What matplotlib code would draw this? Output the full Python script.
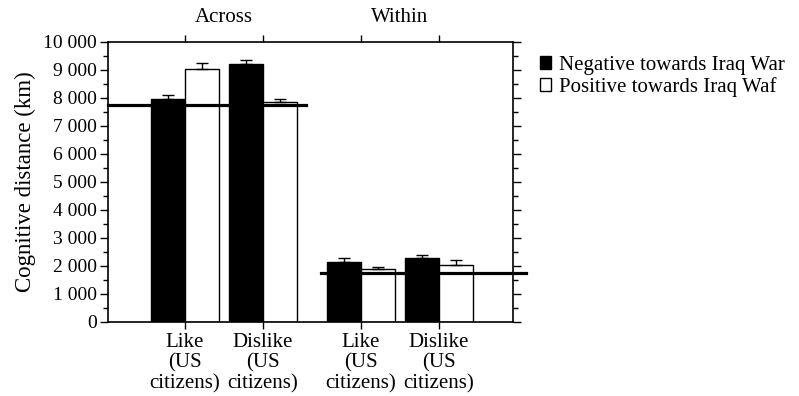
import numpy as np
import matplotlib.pyplot as plt

plt.rcParams['font.family'] = ['Liberation Serif', 'DejaVu Serif']

# data
categories = ['Like\n(US\ncitizens)', 'Dislike\n(US\ncitizens)',
              'Like\n(US\ncitizens)', 'Dislike\n(US\ncitizens)']
negative = [7950, 9200, 2150, 2300]
negative_err = [150, 150, 150, 100]
positive = [9050, 7850, 1880, 2050]
positive_err = [200, 100, 100, 150]
series_names = ['Negative towards Iraq War', 'Positive towards Iraq Waf']
group_names = ['Across', 'Within']
ref_across = 7750
ref_within = 1750

x = np.array([0, 1, 2.256, 3.256])
w = 0.436

fig = plt.figure(figsize=(7.99, 3.96), dpi=100)
ax = fig.add_axes([0.1352, 0.1869, 0.5069, 0.7071])

ax.bar(x - w / 2, negative, w, color='black', edgecolor='black', linewidth=1,
       label=series_names[0], zorder=2)
ax.bar(x + w / 2, positive, w, color='white', edgecolor='black', linewidth=1,
       label=series_names[1], zorder=2)
ax.errorbar(x - w / 2, negative, yerr=[np.zeros(4), negative_err], fmt='none',
            ecolor='black', elinewidth=1, capsize=4, capthick=1, zorder=3)
ax.errorbar(x + w / 2, positive, yerr=[np.zeros(4), positive_err], fmt='none',
            ecolor='black', elinewidth=1, capsize=4, capthick=1, zorder=3)

ax.set_xlim(-0.987, 4.205)
ax.set_ylim(0, 10000)

# reference lines
ax.plot([-0.987, 1.551], [ref_across, ref_across], color='black', lw=2.3,
        clip_on=False, zorder=4)
ax.plot([1.744, 4.372], [ref_within, ref_within], color='black', lw=2.3,
        clip_on=False, zorder=4)

ax.set_xticks(x)
ax.set_xticklabels(categories, fontsize=15, linespacing=1.1)
ax.set_yticks(np.arange(0, 10001, 1000))
ax.set_yticklabels([f'{v:,}'.replace(',', ' ') for v in range(0, 10001, 1000)],
                   fontsize=14)
ax.set_yticks(np.arange(500, 10000, 1000), minor=True)
ax.tick_params(axis='y', which='both', right=True, direction='out')
ax.tick_params(axis='y', which='major', length=6, width=1, pad=2)
ax.tick_params(axis='y', which='minor', length=3.5, width=1)
ax.tick_params(axis='x', which='major', top=True, length=5, width=1, pad=3)
for s in ax.spines.values():
    s.set_linewidth(1.2)

ax.set_ylabel('Cognitive distance (km)', fontsize=16.5, labelpad=5)

ax.text(np.mean(x[:2]), 1.055, group_names[0], transform=ax.get_xaxis_transform(),
        ha='center', va='bottom', fontsize=15)
ax.text(np.mean(x[2:]), 1.055, group_names[1], transform=ax.get_xaxis_transform(),
        ha='center', va='bottom', fontsize=15)

ax.legend(loc='upper left', bbox_to_anchor=(1.045, 0.98), frameon=False,
          fontsize=15, handlelength=0.55, handleheight=0.55, handletextpad=0.4,
          labelspacing=0.1, borderaxespad=0)

fig.savefig('out.png', dpi=100)
